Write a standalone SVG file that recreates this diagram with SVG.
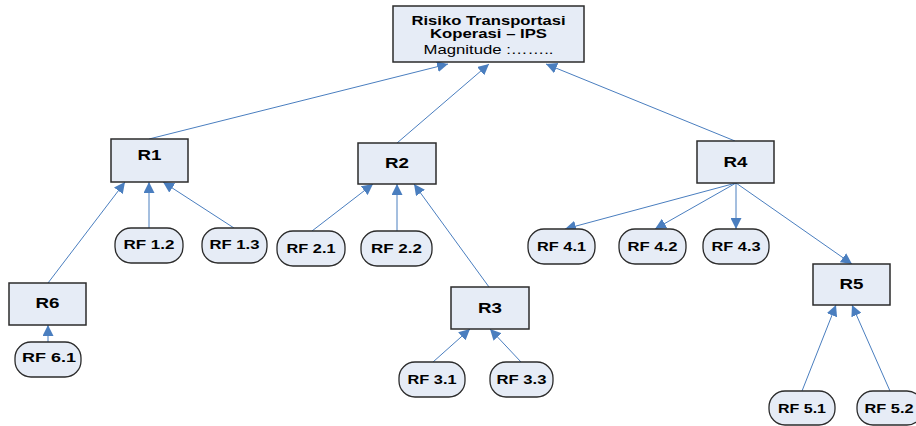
<svg xmlns="http://www.w3.org/2000/svg" width="916" height="426" viewBox="0 0 916 426">
<defs>
<marker id="ah" markerUnits="userSpaceOnUse" markerWidth="12" markerHeight="11" refX="11" refY="5.5" orient="auto">
<path d="M0,0 L11,5.5 L0,11 z" fill="#4a7ebf"/>
</marker>
<style>
.box{fill:#e6ecf6;stroke:#2b2b2b;stroke-width:1.5}
.pill{fill:#e6ecf6;stroke:#2b2b2b;stroke-width:1.3}
.c{stroke:#4a7ebf;stroke-width:1;fill:none;marker-end:url(#ah)}
.r{font-family:"Liberation Sans",Arial,sans-serif;font-weight:bold;font-size:15.5px;text-anchor:middle;fill:#000}
.rf{font-family:"Liberation Sans",Arial,sans-serif;font-weight:bold;font-size:13px;text-anchor:middle;fill:#000}
.t{font-family:"Liberation Sans",Arial,sans-serif;font-size:13.5px;text-anchor:middle;fill:#000}
</style>
</defs>
<rect width="916" height="426" fill="#fff"/>
<g id="connectors">
<line class="c" x1="149" y1="139" x2="448" y2="64"/>
<line class="c" x1="397" y1="143" x2="489" y2="64"/>
<line class="c" x1="735" y1="141" x2="546" y2="64"/>
<line class="c" x1="48" y1="283" x2="125" y2="182"/>
<line class="c" x1="149" y1="228" x2="149" y2="182"/>
<line class="c" x1="234" y1="228" x2="163" y2="182"/>
<line class="c" x1="48" y1="342" x2="48" y2="325"/>
<line class="c" x1="312" y1="231" x2="373" y2="184"/>
<line class="c" x1="397" y1="231" x2="397" y2="184"/>
<line class="c" x1="489" y1="287" x2="414" y2="184"/>
<line class="c" x1="433" y1="362" x2="470" y2="329"/>
<line class="c" x1="521" y1="362" x2="490" y2="329"/>
<line class="c" x1="736" y1="183" x2="565" y2="229"/>
<line class="c" x1="736" y1="183" x2="655" y2="229"/>
<line class="c" x1="736" y1="183" x2="736" y2="229"/>
<line class="c" x1="736" y1="183" x2="852" y2="264"/>
<line class="c" x1="802" y1="391" x2="836" y2="305"/>
<line class="c" x1="890" y1="391" x2="852" y2="305"/>
</g>
<g id="top">
<rect class="box" x="393" y="6" width="191" height="56"/>
<text class="t" x="488.5" y="25" font-weight="bold" textLength="154" lengthAdjust="spacingAndGlyphs">Risiko Transportasi</text>
<text class="t" x="488.5" y="38" font-weight="bold" textLength="117" lengthAdjust="spacingAndGlyphs">Koperasi – IPS</text>
<text class="t" x="488.5" y="54" textLength="130" lengthAdjust="spacingAndGlyphs">Magnitude :……..</text>
</g>
<g id="R1"><rect class="box" x="111" y="139" width="77" height="43"/><text class="r" x="149.5" y="160" textLength="24" lengthAdjust="spacingAndGlyphs">R1</text></g>
<g id="R2"><rect class="box" x="358" y="143" width="78" height="41"/><text class="r" x="397" y="168" textLength="24" lengthAdjust="spacingAndGlyphs">R2</text></g>
<g id="R3"><rect class="box" x="451" y="287" width="78" height="42"/><text class="r" x="490" y="313" textLength="24" lengthAdjust="spacingAndGlyphs">R3</text></g>
<g id="R4"><rect class="box" x="697" y="141" width="77" height="42"/><text class="r" x="735.5" y="167" textLength="24" lengthAdjust="spacingAndGlyphs">R4</text></g>
<g id="R5"><rect class="box" x="813" y="264" width="77" height="41"/><text class="r" x="851.5" y="289" textLength="24" lengthAdjust="spacingAndGlyphs">R5</text></g>
<g id="R6"><rect class="box" x="9" y="283" width="77" height="42"/><text class="r" x="47.5" y="308" textLength="24" lengthAdjust="spacingAndGlyphs">R6</text></g>
<g id="RF12"><rect class="pill" x="115" y="228" width="68" height="35" rx="16"/><text class="rf" x="149" y="249" textLength="51" lengthAdjust="spacingAndGlyphs">RF 1.2</text></g>
<g id="RF13"><rect class="pill" x="202" y="228" width="65" height="35" rx="16"/><text class="rf" x="234.5" y="249" textLength="50" lengthAdjust="spacingAndGlyphs">RF 1.3</text></g>
<g id="RF61"><rect class="pill" x="15" y="342" width="66" height="35" rx="16"/><text class="rf" x="49" y="362" textLength="54" lengthAdjust="spacingAndGlyphs">RF 6.1</text></g>
<g id="RF21"><rect class="pill" x="277" y="231" width="68" height="35" rx="16"/><text class="rf" x="311" y="253" textLength="49" lengthAdjust="spacingAndGlyphs">RF 2.1</text></g>
<g id="RF22"><rect class="pill" x="361" y="231" width="71" height="35" rx="16"/><text class="rf" x="396.5" y="253" textLength="51" lengthAdjust="spacingAndGlyphs">RF 2.2</text></g>
<g id="RF31"><rect class="pill" x="399" y="362" width="66" height="35" rx="16"/><text class="rf" x="432" y="384" textLength="49" lengthAdjust="spacingAndGlyphs">RF 3.1</text></g>
<g id="RF33"><rect class="pill" x="490" y="362" width="63" height="35" rx="16"/><text class="rf" x="521.5" y="384" textLength="50" lengthAdjust="spacingAndGlyphs">RF 3.3</text></g>
<g id="RF41"><rect class="pill" x="528" y="229" width="67" height="35" rx="16"/><text class="rf" x="561.5" y="251" textLength="49" lengthAdjust="spacingAndGlyphs">RF 4.1</text></g>
<g id="RF42"><rect class="pill" x="619" y="229" width="67" height="35" rx="16"/><text class="rf" x="652.5" y="251" textLength="50" lengthAdjust="spacingAndGlyphs">RF 4.2</text></g>
<g id="RF43"><rect class="pill" x="703" y="229" width="66" height="35" rx="16"/><text class="rf" x="736" y="251" textLength="49" lengthAdjust="spacingAndGlyphs">RF 4.3</text></g>
<g id="RF51"><rect class="pill" x="769" y="391" width="66" height="34" rx="16"/><text class="rf" x="802" y="413" textLength="48" lengthAdjust="spacingAndGlyphs">RF 5.1</text></g>
<g id="RF52"><rect class="pill" x="857" y="391" width="66" height="34" rx="16"/><text class="rf" x="889" y="413" textLength="49" lengthAdjust="spacingAndGlyphs">RF 5.2</text></g>
</svg>
